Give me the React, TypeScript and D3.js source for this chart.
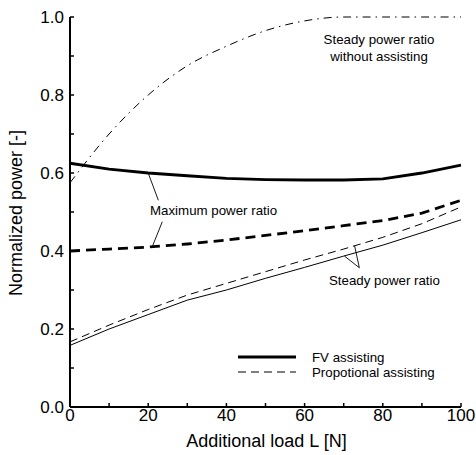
import React, { useEffect, useRef } from 'react';
import * as d3 from 'd3';

const loads = [0, 10, 20, 30, 40, 50, 60, 70, 80, 90, 100];
const fvMax = [0.625, 0.61, 0.6, 0.593, 0.586, 0.583, 0.582, 0.582, 0.585, 0.6, 0.62];
const propMax = [0.4, 0.405, 0.41, 0.418, 0.428, 0.44, 0.452, 0.465, 0.478, 0.497, 0.53];
const fvSteady = [0.158, 0.2, 0.237, 0.274, 0.3, 0.33, 0.358, 0.387, 0.415, 0.447, 0.48];
const propSteady = [0.167, 0.21, 0.25, 0.287, 0.317, 0.347, 0.377, 0.405, 0.435, 0.47, 0.513];
const noAssist = [0.575, 0.7, 0.8, 0.875, 0.925, 0.965, 0.99, 1.0, 1.0, 1.0, 1.0];
const xTickLabels = [0, 20, 40, 60, 80, 100];
const yTickLabels = [0, 0.2, 0.4, 0.6, 0.8, 1.0];

const App = () => {
  const svgRef = useRef<SVGSVGElement>(null);

  useEffect(() => {
    const width = 476;
    const height = 455;
    const font = '"Liberation Sans", Arial, sans-serif';
    const x = d3.scaleLinear().domain([0, 100]).range([70, 461]);
    const y = d3.scaleLinear().domain([0, 1]).range([407, 17]);

    const svg = d3.select(svgRef.current);
    svg.selectAll('*').remove();
    svg.attr('width', width).attr('height', height)
      .style('position', 'absolute').style('left', 0).style('top', 0)
      .style('font-family', font);

    const line = (vals: number[], curve: d3.CurveFactory) => d3.line<number>()
      .x((d, i) => x(loads[i]))
      .y(d => y(d))
      .curve(curve)(vals);

    // curves
    const series = [
      { v: noAssist, w: 1, dash: '8,5,1.5,5', curve: d3.curveMonotoneX },
      { v: fvMax, w: 2.8, dash: null, curve: d3.curveLinear },
      { v: propMax, w: 2.8, dash: '10,6', curve: d3.curveLinear },
      { v: fvSteady, w: 1, dash: null, curve: d3.curveLinear },
      { v: propSteady, w: 1, dash: '8,5', curve: d3.curveLinear },
    ];
    series.forEach(s => {
      svg.append('path')
        .attr('d', line(s.v, s.curve))
        .attr('fill', 'none')
        .attr('stroke', '#000')
        .attr('stroke-width', s.w)
        .attr('stroke-dasharray', s.dash);
    });

    // axes
    const yAxis = svg.append('g');
    yAxis.append('line')
      .attr('x1', x(0)).attr('x2', x(0)).attr('y1', y(0)).attr('y2', y(1))
      .attr('stroke', '#000').attr('stroke-width', 2);
    d3.range(0, 1.0001, 0.1).forEach(t => {
      yAxis.append('line')
        .attr('x1', x(0)).attr('x2', x(0) + 4).attr('y1', y(t)).attr('y2', y(t))
        .attr('stroke', '#000').attr('stroke-width', 1.5);
    });
    yTickLabels.forEach(t => {
      yAxis.append('text')
        .attr('x', x(0) - 6).attr('y', y(t)).attr('dy', '0.35em')
        .attr('text-anchor', 'end').attr('font-size', 17)
        .text(t.toFixed(1));
    });

    const xAxis = svg.append('g');
    xAxis.append('line')
      .attr('x1', x(0)).attr('x2', x(100)).attr('y1', y(0)).attr('y2', y(0))
      .attr('stroke', '#000').attr('stroke-width', 2);
    d3.range(0, 101, 10).forEach(t => {
      xAxis.append('line')
        .attr('x1', x(t)).attr('x2', x(t)).attr('y1', y(0)).attr('y2', y(0) - 4)
        .attr('stroke', '#000').attr('stroke-width', 1.5);
    });
    xTickLabels.forEach(t => {
      xAxis.append('text')
        .attr('x', x(t)).attr('y', 421)
        .attr('text-anchor', 'middle').attr('font-size', 17)
        .text(t);
    });

    svg.append('text')
      .attr('x', (x(0) + x(100)) / 2 + 1).attr('y', 447)
      .attr('text-anchor', 'middle').attr('font-size', 18)
      .text('Additional load L [N]');
    svg.append('text')
      .attr('transform', `translate(22,${y(0.5) + 1}) rotate(-90)`)
      .attr('text-anchor', 'middle').attr('font-size', 18)
      .text('Normalized power [-]');

    // annotations
    const ann = svg.append('g').attr('font-size', 13.3);
    ann.append('text').attr('x', 379).attr('y', 44).attr('text-anchor', 'middle').text('Steady power ratio');
    ann.append('text').attr('x', 379).attr('y', 61).attr('text-anchor', 'middle').text('without assisting');
    ann.append('text').attr('x', 150).attr('y', 215).text('Maximum power ratio');
    ann.append('text').attr('x', 329).attr('y', 285).text('Steady power ratio');

    const leader = (x1: number, y1: number, x2: number, y2: number) => {
      svg.append('line')
        .attr('x1', x(x1)).attr('y1', y(y1)).attr('x2', x(x2)).attr('y2', y(y2))
        .attr('stroke', '#000').attr('stroke-width', 0.9);
    };
    leader(20, 0.6, 22.6, 0.53);
    leader(21, 0.41, 23.6, 0.475);
    leader(70.2, 0.387, 74, 0.357);
    leader(72.8, 0.413, 74, 0.357);

    // legend
    const lg = svg.append('g');
    lg.append('line').attr('x1', 238).attr('x2', 296).attr('y1', 357).attr('y2', 357)
      .attr('stroke', '#000').attr('stroke-width', 2.8);
    lg.append('line').attr('x1', 238).attr('x2', 296).attr('y1', 372).attr('y2', 372)
      .attr('stroke', '#000').attr('stroke-width', 1).attr('stroke-dasharray', '8,5');
    lg.append('text').attr('x', 312).attr('y', 362).attr('font-size', 13.3).text('FV assisting');
    lg.append('text').attr('x', 312).attr('y', 377).attr('font-size', 13.3).text('Propotional assisting');
  }, []);

  return <svg ref={svgRef}></svg>;
};

export default App;
